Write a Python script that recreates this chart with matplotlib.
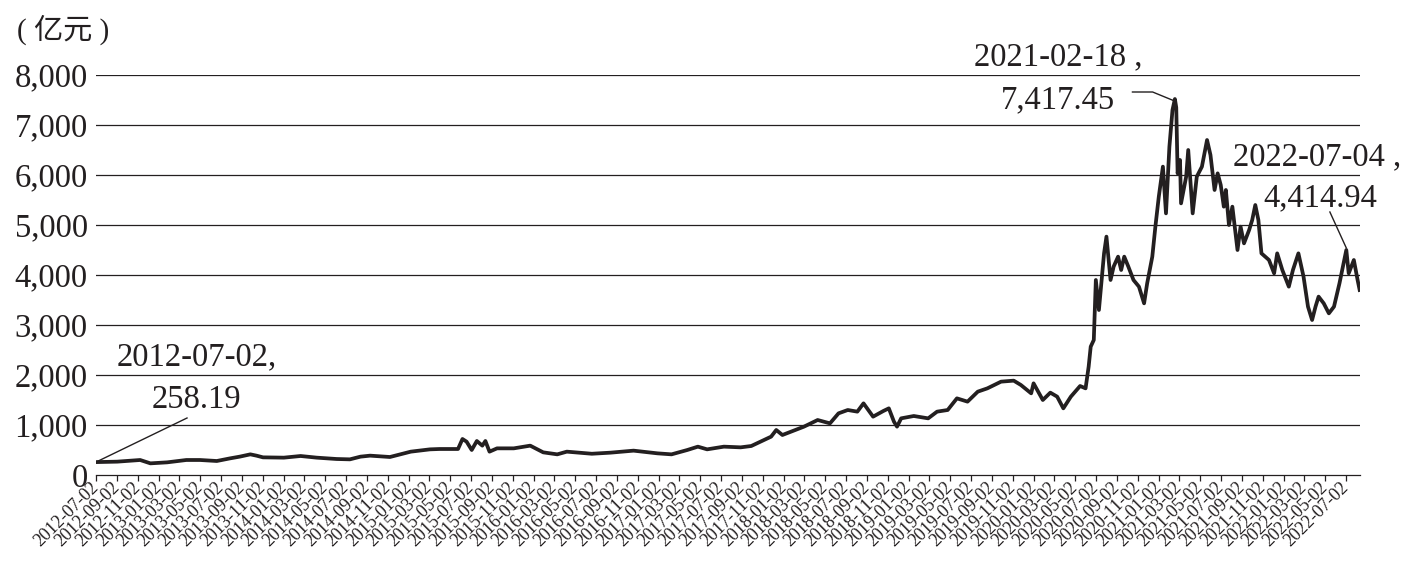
import pandas as pd
import matplotlib
matplotlib.use('Agg')
import matplotlib.pyplot as plt
import matplotlib.dates as mdates
from matplotlib.ticker import FuncFormatter

# values (亿元)
dates = [
    '2012-07-02', '2012-09-02', '2012-11-08', '2012-12-08', '2013-01-26', '2013-03-23',
    '2013-05-02', '2013-06-20', '2013-07-29', '2013-08-26', '2013-09-26', '2013-10-14',
    '2013-11-02', '2014-01-02', '2014-02-20', '2014-04-08', '2014-05-05', '2014-06-05',
    '2014-07-14', '2014-08-14', '2014-09-11', '2014-11-08', '2015-01-08', '2015-03-05',
    '2015-04-02', '2015-05-26', '2015-06-08', '2015-06-20', '2015-07-05', '2015-07-20',
    '2015-08-05', '2015-08-14', '2015-08-26', '2015-09-17', '2015-11-05', '2015-12-23',
    '2016-01-30', '2016-03-11', '2016-04-08', '2016-06-20', '2016-08-14', '2016-10-20',
    '2016-12-29', '2017-02-08', '2017-03-26', '2017-04-26', '2017-05-23', '2017-07-11',
    '2017-08-29', '2017-09-29', '2017-10-26', '2017-11-26', '2017-12-11', '2017-12-29',
    '2018-01-23', '2018-03-02', '2018-04-11', '2018-05-17', '2018-06-11', '2018-07-08',
    '2018-08-05', '2018-08-23', '2018-09-20', '2018-10-20', '2018-11-05', '2018-11-20',
    '2018-11-29', '2018-12-11', '2019-01-17', '2019-02-28', '2019-03-26', '2019-04-26',
    '2019-05-23', '2019-06-23', '2019-07-23', '2019-08-20', '2019-09-29', '2019-11-05',
    '2019-11-26', '2019-12-26', '2020-01-02', '2020-01-29', '2020-02-20', '2020-03-11',
    '2020-03-29', '2020-04-20', '2020-05-17', '2020-06-02', '2020-06-11', '2020-06-17',
    '2020-06-26', '2020-07-02', '2020-07-11', '2020-07-20', '2020-07-26', '2020-08-02',
    '2020-08-14', '2020-08-23', '2020-09-05', '2020-09-14', '2020-09-23', '2020-10-05',
    '2020-10-20', '2020-11-05', '2020-11-20', '2020-11-29', '2020-12-14', '2020-12-23',
    '2021-01-02', '2021-01-14', '2021-01-23', '2021-02-02', '2021-02-11', '2021-02-18',
    '2021-02-22', '2021-02-26', '2021-03-05', '2021-03-08', '2021-03-23', '2021-03-29',
    '2021-04-11', '2021-04-23', '2021-05-08', '2021-05-23', '2021-06-02', '2021-06-14',
    '2021-06-23', '2021-07-02', '2021-07-11', '2021-07-17', '2021-07-26', '2021-08-05',
    '2021-08-20', '2021-08-29', '2021-09-08', '2021-09-23', '2021-10-02', '2021-10-11',
    '2021-10-20', '2021-10-29', '2021-11-20', '2021-12-05', '2021-12-14', '2021-12-29',
    '2022-01-17', '2022-01-29', '2022-02-14', '2022-03-01', '2022-03-14', '2022-03-26',
    '2022-04-05', '2022-04-14', '2022-04-29', '2022-05-14', '2022-05-29', '2022-06-14',
    '2022-07-04', '2022-07-11', '2022-07-26', '2022-08-06', '2022-08-12',
]
values = [
    258, 267, 300, 233, 253, 300,
    300, 280, 333, 367, 413, 387,
    353, 347, 380, 347, 335, 320,
    313, 367, 387, 360, 467, 513,
    520, 520, 720, 667, 500, 680,
    587, 680, 467, 533, 533, 587,
    453, 413, 467, 425, 447, 487,
    433, 413, 500, 567, 513, 567,
    553, 580, 667, 767, 900, 800,
    867, 967, 1100, 1033, 1233, 1300,
    1267, 1433, 1167, 1280, 1333, 1067,
    967, 1133, 1180, 1133, 1267, 1300,
    1533, 1467, 1667, 1733, 1867, 1887,
    1800, 1633, 1833, 1500, 1647, 1567,
    1333, 1567, 1780, 1733, 2167, 2567,
    2700, 3900, 3300, 3967, 4433, 4767,
    3900, 4167, 4367, 4100, 4367, 4167,
    3900, 3767, 3433, 3833, 4367, 4967,
    5567, 6167, 5233, 6567, 7300, 7520,
    7350, 6033, 6300, 5433, 5967, 6500,
    5233, 5967, 6167, 6700, 6400, 5700,
    6033, 5800, 5367, 5700, 5000, 5367,
    4500, 4967, 4633, 4900, 5100, 5400,
    5100, 4433, 4300, 4033, 4433, 4100,
    3767, 4100, 4433, 3967, 3367, 3100,
    3367, 3567, 3433, 3233, 3367, 3833,
    4500, 4033, 4300, 3900, 3700,
]
y_ticks = [0, 1000, 2000, 3000, 4000, 5000, 6000, 7000, 8000]
tick_dates = pd.date_range('2012-07-01', '2022-07-01', freq='2MS') + pd.Timedelta(days=1)

peak_date, peak_value = '2021-02-18', 7417.45
start_date, start_value = '2012-07-02', 258.19
last_date, last_value = '2022-07-04', 4414.94

serif = 'Liberation Serif'
ink = '#231f20'

df = pd.DataFrame({'date': pd.to_datetime(dates), 'value': values})

fig = plt.figure(figsize=(14.22, 5.61), dpi=100)
ax = fig.add_axes([96 / 1422, 1 - 475 / 561, (1360 - 96) / 1422, 400 / 561])

ax.plot(df['date'], df['value'], color=ink, lw=2.7, solid_joinstyle='round')

ax.set_xlim(pd.Timestamp('2012-07-02'), pd.Timestamp('2022-08-13'))
ax.set_ylim(0, 8000)
ax.set_yticks(y_ticks)
ax.yaxis.set_major_formatter(FuncFormatter(lambda v, p: f'{int(v):,}'))
for y in y_ticks[1:]:
    ax.axhline(y, color=ink, lw=0.9, zorder=0)

ax.set_xticks(tick_dates)
ax.xaxis.set_major_formatter(mdates.DateFormatter('%Y-%m-%d'))
for lab in ax.get_xticklabels():
    lab.set_rotation(45)
    lab.set_ha('right')
    lab.set_va('center')
    lab.set_rotation_mode('anchor')
    lab.set_fontfamily(serif)
    lab.set_fontsize(13)
for lab in ax.get_yticklabels():
    lab.set_fontfamily(serif)
    lab.set_fontsize(23.5)

ax.tick_params(axis='y', length=0, pad=6, colors=ink)
ax.tick_params(axis='x', length=4, width=0.9, pad=3, colors=ink, direction='out')
for s in ['left', 'right', 'top']:
    ax.spines[s].set_visible(False)
ax.spines['bottom'].set_color(ink)
ax.spines['bottom'].set_linewidth(0.9)

afont = dict(fontfamily=serif, fontsize=23.5, color=ink, ha='center', va='center')
T = pd.Timestamp

# start annotation
ax.text(T('2013-04-22'), 2360, f'{start_date},', **afont)
ax.text(T('2013-04-22'), 1500, f'{start_value:.2f}', **afont)
ax.plot([T(start_date), T('2013-03-25')], [start_value, 1140], color=ink, lw=1.0)

# peak annotation
ax.text(T('2020-03-13'), 8360, f'{peak_date} ,', clip_on=False, **afont)
ax.text(T('2020-03-12'), 7500, f'{peak_value:,.2f}', **afont)
ax.plot([T('2020-10-17'), T('2020-12-15'), T(peak_date)], [7660, 7660, peak_value + 60],
        color=ink, lw=1.0)

# last annotation
ax.text(T('2022-04-09'), 6360, f'{last_date} ,', **afont)
ax.text(T('2022-04-18'), 5540, f'{last_value:,.2f}', **afont)
ax.plot([T('2022-05-17'), T(last_date)], [5260, 4540], color=ink, lw=1.0)

fig.text(17 / 1422, 1 - 30 / 561, '( 亿元 )', fontsize=21, color=ink,
         fontfamily=[serif, 'Noto Sans CJK SC'], ha='left', va='center')

fig.savefig('out.png', dpi=100)
